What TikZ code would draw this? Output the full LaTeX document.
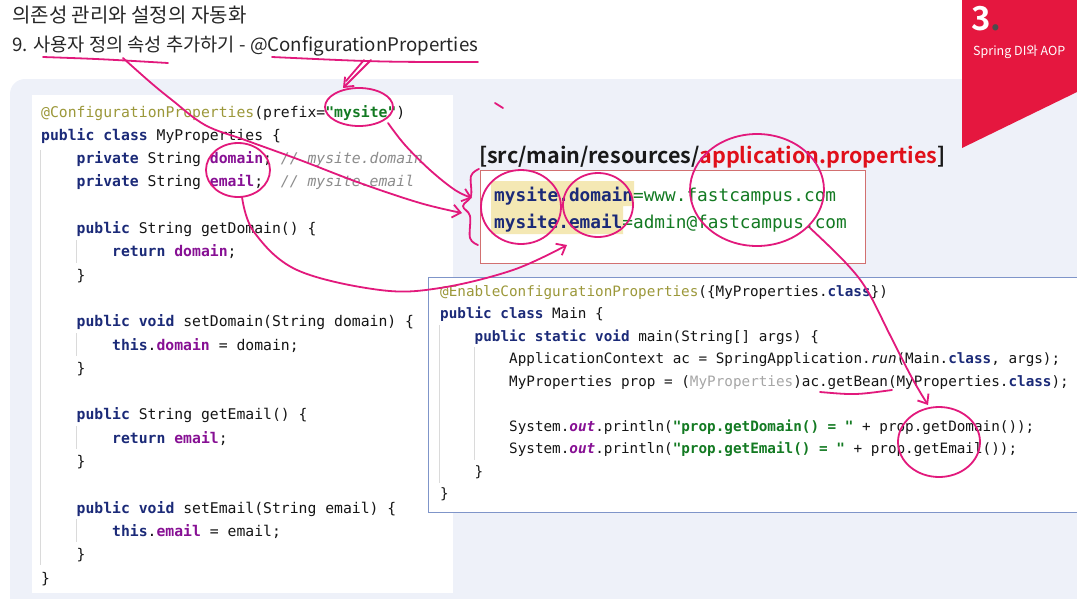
\documentclass[tikz,border=0pt]{standalone}
\usepackage{fontspec}
\usepackage{xcolor}
\usetikzlibrary{arrows.meta}
\newfontfamily\kr{Noto Sans CJK KR}[BoldFont={Noto Sans CJK KR Bold}]
\newfontfamily\codefont{DejaVu Sans Mono}

\definecolor{inkpink}{HTML}{E2197C}
\definecolor{panelbg}{HTML}{EEF1F9}
\definecolor{cornerred}{HTML}{E5173F}
\definecolor{kwblue}{HTML}{1B2A78}
\definecolor{fieldpurple}{HTML}{871094}
\definecolor{strgreen}{HTML}{137A22}
\definecolor{cmtgray}{HTML}{8C8C8C}
\definecolor{annolive}{HTML}{9C983A}
\definecolor{castgray}{HTML}{A6A6A6}
\definecolor{codeblack}{HTML}{151515}
\definecolor{propborder}{HTML}{D27070}
\definecolor{mainborder}{HTML}{7F95C9}
\definecolor{keyhl}{HTML}{F4E8B4}
\definecolor{hdrred}{HTML}{E0101A}
\definecolor{guidegray}{HTML}{DADADA}

\newcommand\kw[1]{\textcolor{kwblue}{\bfseries #1}}
\newcommand\fd[1]{\textcolor{fieldpurple}{\bfseries #1}}
\newcommand\st[1]{\textcolor{strgreen}{\bfseries #1}}
\newcommand\cm[1]{\textcolor{cmtgray}{\itshape #1}}
\newcommand\an[1]{\textcolor{annolive}{#1}}
\newcommand\ot{\textcolor{fieldpurple}{\bfseries\itshape out}}

\tikzset{
  codeline/.style={anchor=base west, inner sep=0pt, text=codeblack,
    font=\codefont\fontsize{14.75}{18}\selectfont},
  mainline/.style={codeline, font=\codefont\fontsize{14.3}{18}\selectfont},
  propline/.style={codeline, font=\codefont\fontsize{17.75}{20}\selectfont},
  inkstroke/.style={draw=inkpink, line width=1.8pt, line cap=round, line join=round},
  inkarrow/.style={inkstroke, -{Straight Barb[length=8pt,width=13pt]}},
  indentguide/.style={draw=guidegray, line width=0.8pt},
}

\begin{document}
\begin{tikzpicture}[x=1pt,y=-1pt]
\useasboundingbox (0,0) rectangle (1077,598);
% background
\fill[panelbg,rounded corners=15pt] (10,79) rectangle (1100,620);
\fill[cornerred] (962,0) -- (1077,0) -- (1077,92) -- (962,148) -- cycle;
\node[anchor=base west,inner sep=0,text=white,font=\kr\bfseries\fontsize{33}{33}\selectfont] (num) at (971,30) {3\textcolor{black!70}{.}};
\node[anchor=base west,inner sep=0,text=white,font=\kr\fontsize{12.5}{13}\selectfont] (part) at (973,55) {Spring DI와 AOP};

% titles
\node[anchor=base west,inner sep=0,text=black!85,font=\kr\fontsize{20}{20}\selectfont] (title) at (12,22) {의존성 관리와 설정의 자동화};
\node[anchor=base west,inner sep=0,text=black!85,font=\kr\fontsize{18.7}{19}\selectfont] (subtitle) at (12,51) {9. 사용자 정의 속성 추가하기 - @ConfigurationProperties};

% MyProperties panel
\fill[white] (32,95) rectangle (453,593);
\draw[indentguide] (40,150) -- (40,565);
\foreach \ya in {240,333,426,519}
  \draw[indentguide] (76,\ya) -- (76,\ya+23);
\foreach \r/\lv/\t in {
  0/0/{\an{@ConfigurationProperties}(prefix=\st{"mysite"})},
  1/0/{\kw{public} \kw{class} MyProperties \{},
  2/1/{\kw{private} String \fd{domain}; \cm{// mysite.domain}},
  3/1/{\kw{private} String \fd{email};\ \ \cm{// mysite.email}},
  5/1/{\kw{public} String getDomain() \{},
  6/2/{\kw{return} \fd{domain};},
  7/1/{\}},
  9/1/{\kw{public} \kw{void} setDomain(String domain) \{},
  10/2/{\kw{this}.\fd{domain} = domain;},
  11/1/{\}},
  13/1/{\kw{public} String getEmail() \{},
  14/2/{\kw{return} \fd{email};},
  15/1/{\}},
  17/1/{\kw{public} \kw{void} setEmail(String email) \{},
  18/2/{\kw{this}.\fd{email} = email;},
  19/1/{\}},
  20/0/{\}}}
  \node[codeline] (p\r) at ({41+\lv*35.5},{117+\r*23.3}) {\t};

% application.properties
\node[anchor=base west,inner sep=0,text=black!90,font=\kr\bfseries\fontsize{21.5}{22}\selectfont] (hdr) at (479,163) {[src/main/resources/\textcolor{hdrred}{application.properties}]};
\fill[white] (480,170) rectangle (865,263);
\fill[keyhl] (491,181) rectangle (634,206) (491,206) rectangle (623,234);
\draw[propborder,line width=0.9pt] (480,170) rectangle (865,263);
\node[propline] (kv1) at (494,201) {\kw{mysite.domain}\textcolor{strgreen}{=www.fastcampus.com}};
\node[propline] (kv2) at (494,228) {\kw{mysite.email}\textcolor{strgreen}{=admin@fastcampus.com}};

% Main class
\fill[white] (428,277) rectangle (1090,512);
\draw[mainborder,line width=0.9pt] (1090,277) -- (428,277) -- (428,512) -- (1090,512);
\draw[indentguide] (439,325) -- (439,483);
\draw[indentguide] (474,347) -- (474,460);
\foreach \r/\lv/\t in {
  0/0/{\an{@EnableConfigurationProperties}(\{MyProperties.\kw{class}\})},
  1/0/{\kw{public} \kw{class} Main \{},
  2/1/{\kw{public} \kw{static} \kw{void} main(String[] args) \{},
  3/2/{ApplicationContext ac = SpringApplication.\textit{run}(Main.\kw{class}, args);},
  4/2/{MyProperties prop = (\textcolor{castgray}{MyProperties})ac.getBean(MyProperties.\kw{class});},
  6/2/{System.\ot.println(\st{"prop.getDomain() = "} + prop.getDomain());},
  7/2/{System.\ot.println(\st{"prop.getEmail() = "} + prop.getEmail());},
  8/1/{\}},
  9/0/{\}}}
  \node[mainline] (m\r) at ({440+\lv*34.5},{296+\r*22.55}) {\t};

% pen marks
\draw[inkstroke] (43,57) .. controls (100,59) .. (168,63);
\draw[inkstroke] (272,57) .. controls (380,62) .. (478,62);
\draw[inkarrow] plot[smooth,tension=0.6] coordinates {(123,58) (150,82) (172,100) (205,125) (245,140) (300,160) (360,183) (420,203) (462,213)};
\draw[inkarrow] (371,60) -- (343,88);
\draw[inkstroke] (364,60) -- (346,81);
\draw[inkstroke] (359,107) ellipse [x radius=34, y radius=19];
\draw[inkarrow] plot[smooth,tension=0.6] coordinates {(388,123) (405,145) (430,170) (455,190) (472,198)};
\draw[inkstroke] plot[smooth,tension=0.6] coordinates {(479,169) (471,176) (471,196) (463,206) (470,216) (470,238) (478,245)};
\draw[inkstroke] (238,170) ellipse [x radius=32, y radius=27];
\draw[inkarrow] plot[smooth,tension=0.6] coordinates {(242,197) (254,232) (297,270) (380,290) (440,288) (513,270) (567,245)};
\draw[inkstroke] (521,207) ellipse [x radius=40, y radius=37];
\draw[inkstroke] (598,205) ellipse [x radius=35, y radius=32];
\draw[inkstroke] (757,190) ellipse [x radius=67, y radius=56];
\draw[inkarrow] plot[smooth,tension=0.6] coordinates {(810,228) (845,262) (867,290) (890,335) (912,378) (928,405)};
\draw[inkstroke] (939,442) ellipse [x radius=41, y radius=35];
\draw[inkstroke] (820,392) .. controls (855,395) .. (892,390);
\draw[inkstroke] (495,103) -- (503,108);
\end{tikzpicture}
\end{document}
